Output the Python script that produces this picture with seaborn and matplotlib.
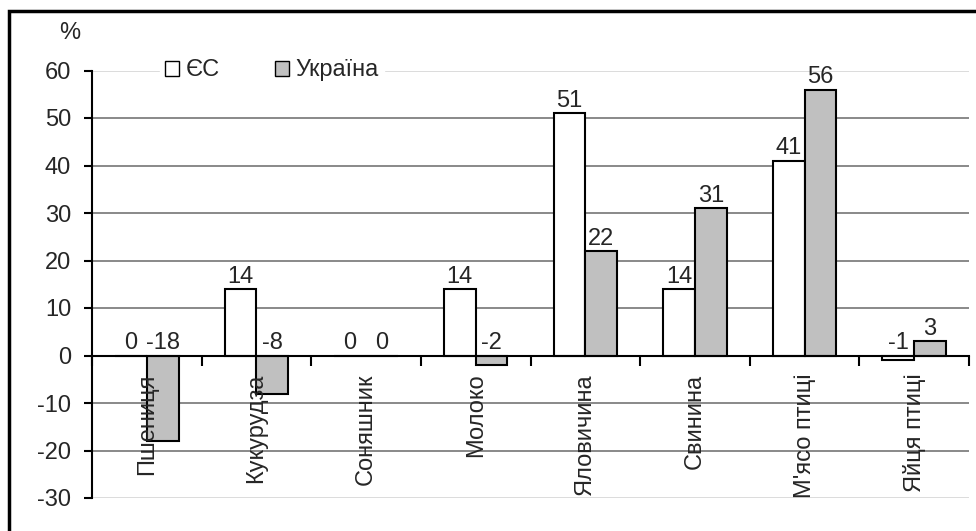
import pandas as pd
import seaborn as sns
import matplotlib.pyplot as plt
from matplotlib.patches import Rectangle, Patch

products = ["Пшениця", "Кукурудза", "Соняшник", "Молоко", "Яловичина", "Свинина", "М'ясо птиці", "Яйця птиці"]
eu = [0, 14, 0, 14, 51, 14, 41, -1]
ukraine = [-18, -8, 0, -2, 22, 31, 56, 3]
series = ["ЄС", "Україна"]
y_ticks = [-30, -20, -10, 0, 10, 20, 30, 40, 50, 60]

df = pd.DataFrame({
    "product": products * 2,
    "value": eu + ukraine,
    "series": [series[0]] * len(products) + [series[1]] * len(products),
})

sns.set_style("white")
plt.rcParams["font.family"] = ["Liberation Sans", "DejaVu Sans"]
plt.rcParams["axes.unicode_minus"] = False
fs = 17

fig = plt.figure(figsize=(9.76, 5.31), dpi=100)
ax = fig.add_axes([92 / 976, 1 - 498 / 531, (969 - 92) / 976, (498 - 70.5) / 531])

colors = {"ЄС": "white", "Україна": "#c0c0c0"}
sns.barplot(data=df, x="product", y="value", hue="series", palette=colors,
            width=0.58, gap=0, edgecolor="black", linewidth=1.5, ax=ax, legend=False)

ax.set_ylim(-30, 60)
ax.set_xlim(-0.5, len(products) - 0.5)
ax.set_yticks(y_ticks)
ax.set_xlabel("")
ax.set_ylabel("")

# gridlines drawn under the bars, axis (tick labels) above them
ax.grid(False)
ax.set_axisbelow(False)
for val in y_ticks:
    light = val in (y_ticks[0], y_ticks[-1])
    ax.axhline(val, color="#d9d9d9" if light else "#808080", linewidth=1.3, zorder=0.5)

# spines
for s in ["top", "right"]:
    ax.spines[s].set_visible(False)
ax.spines["bottom"].set_position(("data", 0))
ax.spines["bottom"].set_color("black")
ax.spines["bottom"].set_linewidth(1.5)
ax.spines["left"].set_color("black")
ax.spines["left"].set_linewidth(1.5)

ax.tick_params(axis="y", direction="out", length=6, width=1.5, color="black",
               labelsize=fs, pad=9, left=True)
ax.tick_params(axis="x", which="major", length=0, labelsize=fs, pad=13)
ax.set_xticks([i - 0.5 for i in range(len(products) + 1)], minor=True)
ax.tick_params(axis="x", which="minor", direction="out", length=7, width=1.5, color="black", bottom=True)
for lbl in ax.get_xticklabels():
    lbl.set_rotation(90)
    lbl.set_va("top")

# value labels above bars (or above zero for negatives)
for cont in ax.containers:
    for bar in cont:
        h = bar.get_height()
        x = bar.get_x() + bar.get_width() / 2
        ax.text(x, max(h, 0) + 0.3, f"{h:.0f}", ha="center", va="bottom", fontsize=fs, zorder=5)

handles = [Patch(facecolor=colors[s], edgecolor="black", linewidth=1) for s in series]
leg = ax.legend(handles, series, ncol=2, loc="center", bbox_to_anchor=(272 / 976, 1 - 70.5 / 531),
                bbox_transform=fig.transFigure, fontsize=fs, frameon=True, handlelength=0.6,
                handleheight=0.6, handletextpad=0.3, columnspacing=2.3, borderpad=0.2)
leg.get_frame().set_facecolor("white")
leg.get_frame().set_edgecolor("white")
leg.get_frame().set_alpha(1)

fig.text(70 / 976, 1 - 33 / 531, "%", fontsize=fs, ha="center", va="center")

fig.patches.append(Rectangle((8.5 / 976, -0.1), 2, 1 - 11 / 531 + 0.1, transform=fig.transFigure,
                             fill=False, edgecolor="black", linewidth=2.5))

fig.savefig("out.png", dpi=100)
